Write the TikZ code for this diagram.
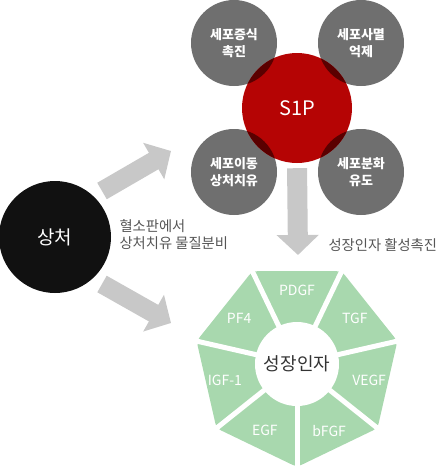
\documentclass[tikz,border=0pt]{standalone}
\usepackage{fontspec}
\setmainfont{Noto Sans CJK KR}
\usetikzlibrary{arrows.meta,shapes.geometric}
\definecolor{cellgray}{HTML}{6F6F6F}
\definecolor{s1pred}{HTML}{B50404}
\definecolor{darkred}{HTML}{5A0000}
\definecolor{woundblack}{HTML}{111111}
\definecolor{arrowgray}{HTML}{C8C8C8}
\definecolor{gfgreen}{HTML}{A8D8AE}
\definecolor{notegray}{HTML}{555555}
\definecolor{centergray}{HTML}{333333}
\begin{document}
\begin{tikzpicture}[x=1pt, y=-1pt,
    cell/.style={circle, fill=cellgray, minimum size=86pt, inner sep=0pt, text=white, align=center, font=\fontsize{13}{17}\selectfont\bfseries},
    bigarrow/.style={draw=arrowgray, line width=19pt, -{Triangle[width=41pt, length=20pt]}},
    gflbl/.style={text=white, font=\fontsize{14}{16}\selectfont},
    note/.style={text=notegray, align=left, font=\fontsize{14.3}{17}\selectfont}
]
    \useasboundingbox (0,0) rectangle (439,467);
    % 세포 효과
    \node[cell] (prolif) at (234,43) {세포증식\\촉진};
    \node[cell] (apopt) at (361,43) {세포사멸\\억제};
    \node[cell] (migr) at (234,172) {세포이동\\상처치유};
    \node[cell] (diff) at (361,172) {세포분화\\유도};
    % S1P
    \node[circle, fill=s1pred, minimum size=110pt, inner sep=0pt, text=white, font=\fontsize{20}{24}\selectfont] (s1p) at (297,108) {S1P};
    \begin{scope}
        \clip (s1p.center) circle (55pt);
        \foreach \c in {prolif, apopt, migr, diff}
            \fill[darkred] (\c.center) circle (43pt);
    \end{scope}
    % 상처
    \node[circle, fill=woundblack, minimum size=112pt, inner sep=0pt, text=white, font=\fontsize{19}{22}\selectfont] (wound) at (55,237) {상처};
    \node[note, anchor=west] (platelet) at (116,234.5) {혈소판에서\\상처치유 물질분비};
    % 화살표
    \coordinate (upstart) at (102,191);
    \coordinate (uptip) at (171,151);
    \coordinate (lowstart) at (102,284);
    \coordinate (lowtip) at (171,323);
    \coordinate (downtip) at (298,255);
    \draw[bigarrow] (upstart) -- (uptip);
    \draw[bigarrow] (lowstart) -- (lowtip);
    \draw[bigarrow, line width=20pt, shorten <=5pt] (s1p.south) -- (downtip);
    \node[note, anchor=west] (activate) at (325,245) {성장인자 활성촉진};
    % 성장인자
    \node[regular polygon, regular polygon sides=7, shape border rotate=180, minimum size=206pt, inner sep=0pt, fill=gfgreen, rounded corners=5pt] (gfring) at (297,364) {};
    \foreach \i in {1,...,7}
        \draw[white, line width=5pt] (gfring.center) -- (gfring.corner \i);
    \node[circle, fill=white, minimum size=84pt, inner sep=0pt, text=centergray, font=\fontsize{18}{22}\selectfont] (gf) at (gfring.center) {성장인자};
    \foreach \ang/\name in {-90/PDGF, -38.57/TGF, 12.86/VEGF, 64.29/bFGF, 115.71/EGF, 167.14/IGF-1, 218.57/PF4}
        \path (gfring.center) ++(\ang:74) node[gflbl] {\name};
\end{tikzpicture}
\end{document}
